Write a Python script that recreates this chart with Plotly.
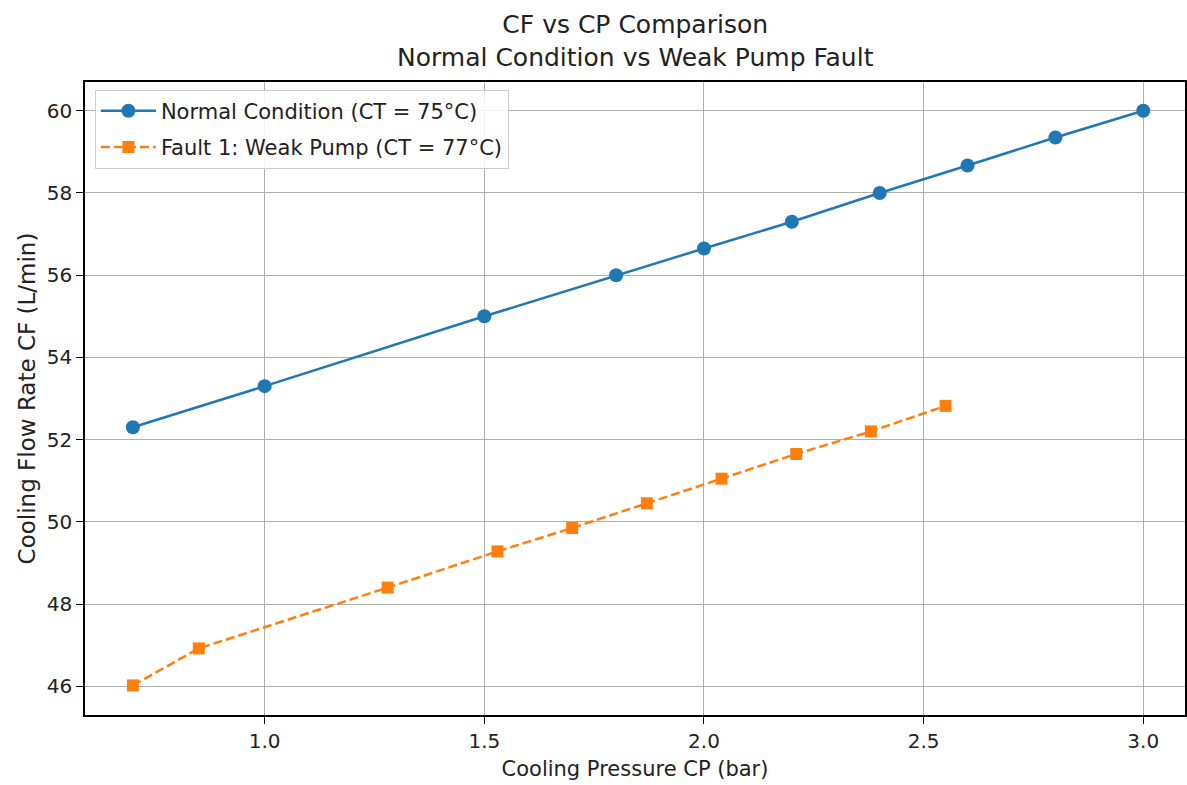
import plotly.graph_objects as go

normal_cp = [0.7, 1.0, 1.5, 1.8, 2.0, 2.2, 2.4, 2.6, 2.8, 3.0]
normal_cf = [52.3, 53.3, 55.0, 56.0, 56.65, 57.3, 58.0, 58.67, 59.35, 60.0]

fault_cp = [0.70, 0.85, 1.28, 1.53, 1.70, 1.87, 2.04, 2.21, 2.38, 2.55]
fault_cf = [46.02, 46.92, 48.4, 49.28, 49.85, 50.45, 51.05, 51.65, 52.2, 52.82]

x_ticks = [1.0, 1.5, 2.0, 2.5, 3.0]
y_ticks = [46, 48, 50, 52, 54, 56, 58, 60]

title_lines = ["CF vs CP Comparison", "Normal Condition vs Weak Pump Fault"]

font = "DejaVu Sans, Liberation Sans, sans-serif"

fig = go.Figure()
fig.add_trace(go.Scatter(
    x=normal_cp, y=normal_cf, mode="lines+markers",
    name="Normal Condition (CT = 75°C)", legendgroup="a",
    line=dict(color="#1f77b4", width=2.5),
    marker=dict(symbol="circle", size=14, color="#1f77b4"),
))
fig.add_trace(go.Scatter(
    x=fault_cp, y=fault_cf, mode="lines+markers",
    name="Fault 1: Weak Pump (CT = 77°C)", legendgroup="b",
    line=dict(color="#ff7f0e", width=2.5, dash="9px,4px"),
    marker=dict(symbol="square", size=12, color="#ff7f0e"),
))

fig.update_layout(
    width=1187, height=785,
    margin=dict(l=85, r=0, t=82, b=70),
    paper_bgcolor="white", plot_bgcolor="white",
    font=dict(family=font, size=20, color="#222"),
    legend=dict(
        x=0.009, y=0.988, xanchor="left", yanchor="top",
        bgcolor="rgba(255,255,255,0.85)", bordercolor="#cccccc", borderwidth=1,
        font=dict(size=21, color="#222"), itemwidth=55,
        tracegroupgap=6,
    ),
    showlegend=True,
    annotations=[dict(
        text="<br>".join(title_lines), x=0.5, xref="paper", xanchor="center",
        y=1.117, yref="paper", yanchor="top", showarrow=False,
        font=dict(size=25, color="#222"),
    )],
)
fig.update_xaxes(
    range=[0.591, 3.095], tickvals=x_ticks, ticktext=[f"{v:.1f}" for v in x_ticks],
    tickfont=dict(size=20),
    showgrid=True, gridcolor="#b0b0b0", gridwidth=1,
    showline=True, linecolor="black", linewidth=1.5, mirror=True,
    ticks="outside", ticklen=7, tickcolor="black", zeroline=False,
    title=dict(text="Cooling Pressure CP (bar)", font=dict(size=21), standoff=10),
)
fig.update_yaxes(
    range=[45.3, 60.7], tickvals=y_ticks,
    tickfont=dict(size=20),
    showgrid=True, gridcolor="#b0b0b0", gridwidth=1,
    showline=True, linecolor="black", linewidth=1.5, mirror=True,
    ticks="outside", ticklen=7, tickcolor="black", zeroline=False,
    title=dict(text="Cooling Flow Rate CF (L/min)", font=dict(size=23), standoff=5),
)

fig.write_html("out.html")
